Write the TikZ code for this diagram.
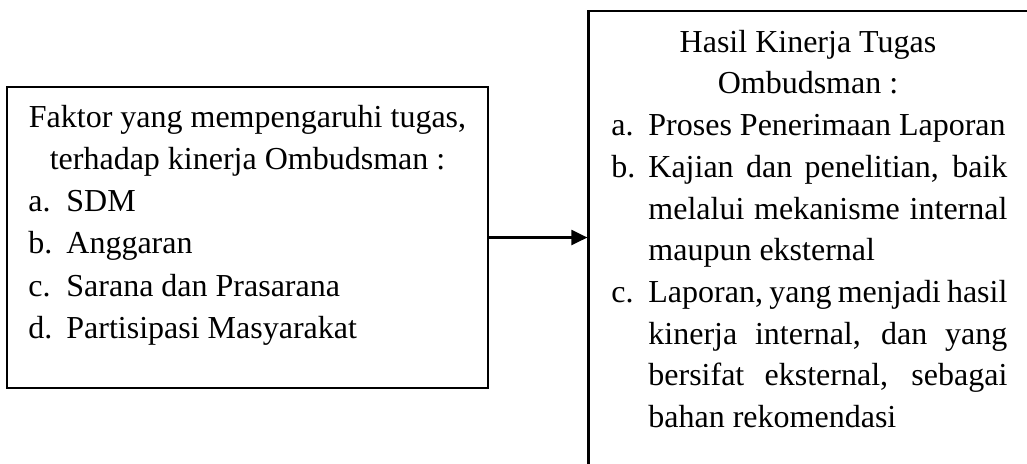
\documentclass[tikz,border=0pt]{standalone}
\usepackage{fontspec}
\setmainfont{Liberation Serif}
\usetikzlibrary{arrows.meta}
\tikzset{
  boxframe/.style={draw=black, line width=1.1pt, rectangle, inner sep=0pt},
  txt/.style={anchor=base west, inner sep=0pt, font=\fontsize{16}{21}\selectfont},
  ctxt/.style={anchor=base, inner sep=0pt, font=\fontsize{16}{21}\selectfont},
  link/.style={line width=1.1pt, -{Triangle[length=8pt,width=7.5pt]}}
}
\newcommand{\jline}[1]{\makebox[179.5pt][s]{#1}}
\begin{document}
\begin{tikzpicture}[x=0.5pt,y=-0.5pt]
\clip (0,0) rectangle (1027,463);
\fill[white] (0,0) rectangle (1027,463);
% boxes
\node[boxframe, minimum width=240.5pt, minimum height=150.5pt] (L) at (247.5,237.5) {};
\node[boxframe, minimum width=225pt, minimum height=240pt] (R) at (813.5,251) {};
% left text
\node[ctxt] (l1) at (247.5,127) {Faktor yang mempengaruhi tugas,};
\node[ctxt] (l2) at (247.5,169) {terhadap kinerja Ombudsman :};
\node[txt] (l3a) at (28,211) {a.};
\node[txt] (l3) at (66,211) {SDM};
\node[txt] (l4a) at (28,253) {b.};
\node[txt] (l4) at (66,253) {Anggaran};
\node[txt] (l5a) at (28,296) {c.};
\node[txt] (l5) at (66,296) {Sarana dan Prasarana};
\node[txt] (l6a) at (28,338) {d.};
\node[txt] (l6) at (66,338) {Partisipasi Masyarakat};
% right text
\node[ctxt] (r1) at (808,52) {Hasil Kinerja Tugas};
\node[ctxt] (r2) at (808,93.5) {Ombudsman :};
\node[txt] (r3a) at (611,135.5) {a.};
\node[txt] (r3) at (648,135.5) {Proses Penerimaan Laporan};
\node[txt] (r4a) at (611,177) {b.};
\node[txt] (r4) at (648,177) {\jline{Kajian dan penelitian, baik}};
\node[txt] (r5) at (648,219) {\jline{melalui mekanisme internal}};
\node[txt] (r6) at (648,260.5) {maupun eksternal};
\node[txt] (r7a) at (611,302) {c.};
\node[txt] (r7) at (648,302) {\jline{Laporan, yang menjadi hasil}};
\node[txt] (r8) at (648,344) {\jline{kinerja internal, dan yang}};
\node[txt] (r9) at (648,385.5) {\jline{bersifat eksternal, sebagai}};
\node[txt] (r10) at (648,427) {bahan rekomendasi};
% connector
\draw[link] (L.east) -- (L.east -| R.west);
\end{tikzpicture}
\end{document}
